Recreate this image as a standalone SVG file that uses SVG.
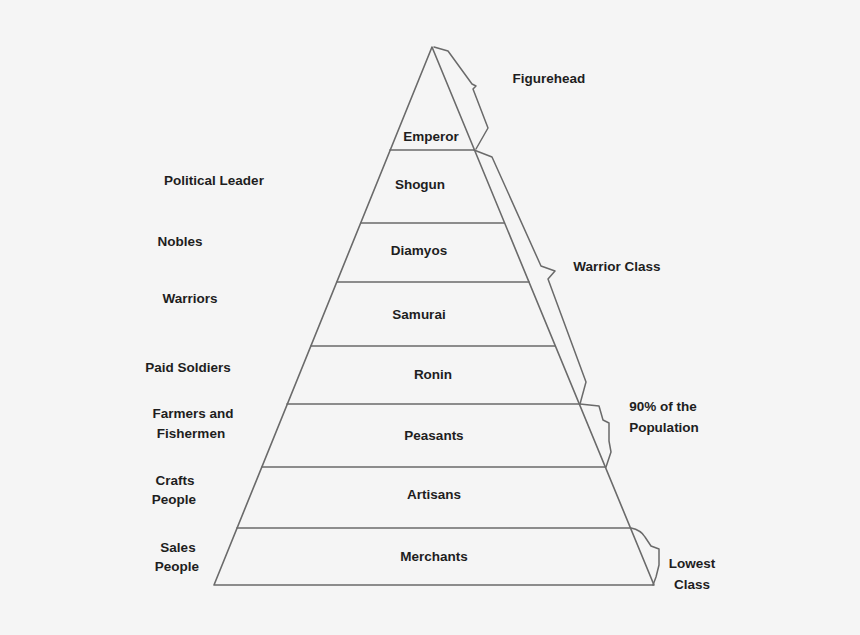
<svg xmlns="http://www.w3.org/2000/svg" width="860" height="635" viewBox="0 0 860 635">
<style>
.ln{fill:none;stroke:#6a6a6a;stroke-width:1.6;stroke-linejoin:round;stroke-linecap:round}
.br{fill:none;stroke:#6a6a6a;stroke-width:1.5;stroke-linejoin:round;stroke-linecap:round}
text{font-family:"Liberation Sans",Arial,sans-serif;font-weight:bold;font-size:13.5px;fill:#1e1e1e;text-anchor:middle}
</style>
<rect width="860" height="635" fill="#f5f5f5"/>
<g id="pyramid">
<polygon class="ln" points="432,47 214,585 654,585"/>
</g>
<g id="tiers">
<g id="emperor"><text x="431" y="141">Emperor</text></g>
<g id="shogun"><line class="ln" x1="390" y1="150" x2="474" y2="150"/><text x="420" y="189">Shogun</text></g>
<g id="diamyos"><line class="ln" x1="361" y1="223" x2="504" y2="223"/><text x="419" y="255">Diamyos</text></g>
<g id="samurai"><line class="ln" x1="337" y1="282" x2="529" y2="282"/><text x="419" y="319">Samurai</text></g>
<g id="ronin"><line class="ln" x1="311" y1="346" x2="555" y2="346"/><text x="433" y="379">Ronin</text></g>
<g id="peasants"><line class="ln" x1="287" y1="404" x2="579" y2="404"/><text x="434" y="440">Peasants</text></g>
<g id="artisans"><line class="ln" x1="262" y1="467" x2="605" y2="467"/><text x="434" y="499">Artisans</text></g>
<g id="merchants"><line class="ln" x1="237" y1="528" x2="630" y2="528"/><text x="434" y="561">Merchants</text></g>
</g>
<g id="left-labels">
<g id="l-political"><text x="214" y="185">Political Leader</text></g>
<g id="l-nobles"><text x="180" y="246">Nobles</text></g>
<g id="l-warriors"><text x="190" y="303">Warriors</text></g>
<g id="l-paid"><text x="188" y="372">Paid Soldiers</text></g>
<g id="l-farmers"><text x="193" y="418">Farmers and</text><text x="191" y="438">Fishermen</text></g>
<g id="l-crafts"><text x="175" y="485">Crafts</text><text x="174" y="504">People</text></g>
<g id="l-sales"><text x="178" y="552">Sales</text><text x="177" y="571">People</text></g>
</g>
<g id="connectors">
<path class="br" d="M434,47 L448,51 L472,84 L476,86 L473,89 L488,128 L476,149"/>
<path class="br" d="M474,150 L492,157 L541,266 L555,271 L548,279 L586,382 L580,404"/>
<path class="br" d="M580,404 L599,406 L603,420 L609,423 L609,441 L611,452 L606,467"/>
<path class="br" d="M631,528 Q641,530 645,537 L651,546 L659,549 L659,565 L656,577 L653,585"/>
</g>
<g id="right-labels">
<g id="r-figurehead"><text x="549" y="83">Figurehead</text></g>
<g id="r-warrior"><text x="617" y="271">Warrior Class</text></g>
<g id="r-90"><text x="663" y="411">90% of the</text><text x="664" y="432">Population</text></g>
<g id="r-lowest"><text x="692" y="568">Lowest</text><text x="692" y="589">Class</text></g>
</g>
</svg>
